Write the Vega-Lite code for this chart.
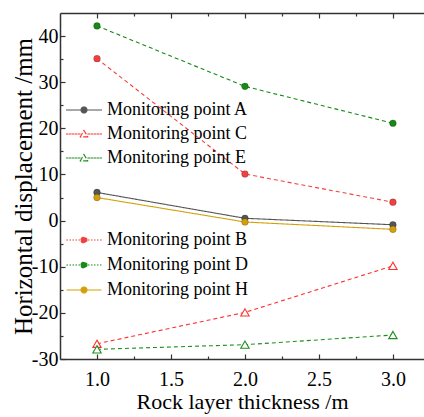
{
  "$schema": "https://vega.github.io/schema/vega-lite/v6.json",
  "width": 364,
  "height": 346,
  "autosize": {"type": "none"},
  "padding": {"left": 60, "top": 13, "right": 0, "bottom": 58},
  "background": "white",
  "config": {
    "view": {"stroke": null},
    "font": "Liberation Serif",
    "axis": {"domainColor": "#333333", "domainWidth": 1.5, "tickColor": "#333333", "tickWidth": 1.2, "grid": false, "labelFont": "Liberation Serif", "titleFont": "Liberation Serif", "labelColor": "black", "titleColor": "black", "titleFontWeight": "normal", "labelFontSize": 20},
    "legend": {"labelFont": "Liberation Serif"}
  },
  "data": {"values": [
    {"series": "Monitoring point A", "x": 1, "y": 6.1},
    {"series": "Monitoring point A", "x": 2, "y": 0.5},
    {"series": "Monitoring point A", "x": 3, "y": -0.9},
    {"series": "Monitoring point C", "x": 1, "y": -26.7},
    {"series": "Monitoring point C", "x": 2, "y": -19.9},
    {"series": "Monitoring point C", "x": 3, "y": -9.8},
    {"series": "Monitoring point E", "x": 1, "y": -27.9},
    {"series": "Monitoring point E", "x": 2, "y": -26.9},
    {"series": "Monitoring point E", "x": 3, "y": -24.8},
    {"series": "Monitoring point B", "x": 1, "y": 35.1},
    {"series": "Monitoring point B", "x": 2, "y": 10.1},
    {"series": "Monitoring point B", "x": 3, "y": 4.0},
    {"series": "Monitoring point D", "x": 1, "y": 42.2},
    {"series": "Monitoring point D", "x": 2, "y": 29.1},
    {"series": "Monitoring point D", "x": 3, "y": 21.1},
    {"series": "Monitoring point H", "x": 1, "y": 5.0},
    {"series": "Monitoring point H", "x": 2, "y": -0.3},
    {"series": "Monitoring point H", "x": 3, "y": -1.9}
  ]},
  "encoding": {
    "x": {"field": "x", "type": "quantitative", "scale": {"domain": [0.75, 3.21], "nice": false, "zero": false},
      "axis": {"orient": "bottom", "title": "Rock layer thickness /m", "titleFontSize": 22, "values": [1, 1.25, 1.5, 1.75, 2, 2.25, 2.5, 2.75, 3],
        "labelFont": "Liberation Serif",
        "labelExpr": "datum.value % 0.5 === 0 ? format(datum.value, '.1f') : ''",
        "tickSize": {"condition": {"test": "datum.value % 0.5 === 0", "value": -5}, "value": -3},
        "labelPadding": 15, "titlePadding": 0, "labelFlush": false, "labelOverlap": false}},
    "y": {"field": "y", "type": "quantitative", "scale": {"domain": [-30, 45], "nice": false, "zero": false},
      "axis": {"title": "Horizontal displacement /mm", "titleFontSize": 25, "values": [-30, -25, -20, -15, -10, -5, 0, 5, 10, 15, 20, 25, 30, 35, 40],
        "labelFont": "Liberation Serif",
        "labelExpr": "datum.value % 10 === 0 ? '' + datum.value : ''",
        "tickSize": {"condition": {"test": "datum.value % 10 === 0", "value": -5}, "value": -3},
        "labelPadding": 7, "titlePadding": -5, "labelFlush": false, "labelOverlap": false}}
  },
  "layer": [
    {
      "transform": [{"filter": {"field": "series", "oneOf": ["Monitoring point A", "Monitoring point C", "Monitoring point E"]}}],
      "encoding": {
        "color": {"field": "series", "type": "nominal",
          "scale": {"domain": ["Monitoring point A", "Monitoring point C", "Monitoring point E"], "range": ["#555555", "#ff3030", "#1f8f1f"]},
          "legend": {"orient": "none", "legendX": 0, "legendY": 88, "title": null, "padding": 0,
            "labelFont": "Liberation Serif", "labelFontSize": 18, "labelColor": "black", "symbolSize": 100, "rowPadding": 6, "symbolOffset": 15, "labelOffset": 14, "labelLimit": 250,
            "encode": {
              "symbols": {"update": {
              "shape": {"signal": "datum.value === 'Monitoring point A' ? 'M-3.5,0H-0.6M0.6,0H3.5M-0.6,0A0.6,0.6,0,1,1,0.6,0A0.6,0.6,0,1,1,-0.6,0Z' : 'M-3.5,0H-3.2M-2.9,0H-2.6M-2.3,0H-2M-1.7,0H-1.4M-1.1,0H-0.8M0.8,0H1.1M1.4,0H1.7M2,0H2.3M2.6,0H2.9M3.2,0H3.5M0,-0.72L0.75,0.58M0.75,0.58L-0.75,0.58M-0.75,0.58L0,-0.72'"},
              "strokeWidth": {"value": 1.1},
              "strokeDash": {"value": []},
              "strokeCap": {"value": "square"},
              "opacity": {"value": 1}
            }}}}
        }
      },
      "layer": [
        {"mark": {"type": "line", "strokeWidth": 1.1},
          "encoding": {"strokeDash": {"field": "series", "type": "nominal", "legend": null,
            "scale": {"domain": ["Monitoring point A", "Monitoring point C", "Monitoring point E"], "range": [[1, 0], [4, 3], [4, 3]]}}}},
        {"transform": [{"filter": "datum.series === 'Monitoring point A'"}],
          "mark": {"type": "point", "shape": "circle", "filled": true, "size": 45, "opacity": 1, "stroke": "rgba(0,0,0,0.3)", "strokeWidth": 0.8}},
        {"transform": [{"filter": "datum.series !== 'Monitoring point A'"}],
          "mark": {"type": "point", "shape": "triangle-up", "filled": false, "fill": "white", "size": 70, "opacity": 1, "strokeWidth": 1.1}}
      ]
    },
    {
      "transform": [{"filter": {"field": "series", "oneOf": ["Monitoring point B", "Monitoring point D", "Monitoring point H"]}}],
      "encoding": {
        "x": {"field": "x", "type": "quantitative", "axis": null},
        "color": {"field": "series", "type": "nominal",
          "scale": {"domain": ["Monitoring point B", "Monitoring point D", "Monitoring point H"], "range": ["#f24040", "#158a15", "#d4a00a"]},
          "legend": {"orient": "none", "legendX": 0, "legendY": 218, "title": null, "padding": 0,
            "labelFont": "Liberation Serif", "labelFontSize": 18, "labelColor": "black", "symbolSize": 100, "rowPadding": 7, "symbolOffset": 15, "labelOffset": 14, "labelLimit": 250,
            "encode": {
              "symbols": {"update": {
              "shape": {"signal": "datum.value === 'Monitoring point H' ? 'M-3.5,0H-0.6M0.6,0H3.5M-0.6,0A0.6,0.6,0,1,1,0.6,0A0.6,0.6,0,1,1,-0.6,0Z' : 'M-3.5,0H-3.2M-2.9,0H-2.6M-2.3,0H-2M-1.7,0H-1.4M-1.1,0H-0.8M0.8,0H1.1M1.4,0H1.7M2,0H2.3M2.6,0H2.9M3.2,0H3.5M-0.6,0A0.6,0.6,0,1,1,0.6,0A0.6,0.6,0,1,1,-0.6,0Z'"},
              "strokeWidth": {"value": 1.1},
              "strokeDash": {"value": []},
              "opacity": {"value": 1}
            }}}}
        }
      },
      "layer": [
        {"mark": {"type": "line", "strokeWidth": 1.1},
          "encoding": {"strokeDash": {"field": "series", "type": "nominal", "legend": null,
            "scale": {"domain": ["Monitoring point B", "Monitoring point D", "Monitoring point H"], "range": [[4, 3], [4, 3], [1, 0]]}}}},
        {"mark": {"type": "point", "shape": "circle", "filled": true, "size": 45, "opacity": 1, "stroke": "rgba(0,0,0,0.25)", "strokeWidth": 0.8}}
      ]
    },
    {
      "mark": {"type": "point", "opacity": 0},
      "encoding": {
        "x": {"field": "x", "type": "quantitative",
          "axis": {"orient": "top", "title": null, "labels": false, "values": [1, 1.25, 1.5, 1.75, 2, 2.25, 2.5, 2.75, 3],
            "tickSize": {"condition": {"test": "datum.value % 0.5 === 0", "value": -5}, "value": -3}}}
      }
    }
  ],
  "resolve": {"scale": {"color": "independent", "strokeDash": "independent"}, "axis": {"x": "independent"}}
}
